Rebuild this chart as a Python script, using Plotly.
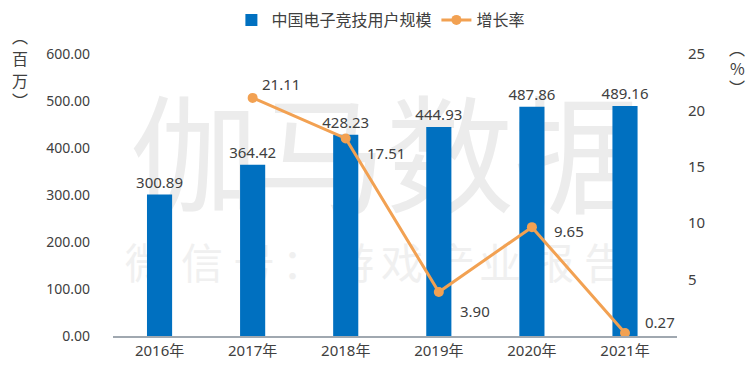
import plotly.graph_objects as go

years = ["2016年", "2017年", "2018年", "2019年", "2020年", "2021年"]
users = [300.89, 364.42, 428.23, 444.93, 487.86, 489.16]
growth_years = ["2017年", "2018年", "2019年", "2020年", "2021年"]
growth = [21.11, 17.51, 3.90, 9.65, 0.27]
growth_label_shift = [(28, 14), (40, -15), (36, -19), (37, -4), (35, 11)]
left_ticks = [0, 100, 200, 300, 400, 500, 600]
right_ticks = [5, 10, 15, 20, 25]

BLUE = "#0070C0"
ORANGE = "#F2A152"
FONT = "Noto Sans, Noto Sans CJK SC, sans-serif"
TXT = "#404040"

# plot area in pixels
L, R, T, B = 113, 677, 54, 336


def px(x):
    return (x - L) / (R - L)


def py(y):
    return (B - y) / (B - T)


fig = go.Figure()

# watermark (drawn beneath the data, on the base subplot whose units are pixels)
fig.add_trace(go.Scatter(x=[386], y=[172], mode="text", text=["伽马数据"],
                         textfont=dict(size=128, color="#ececec", family="Noto Sans CJK SC"),
                         hoverinfo="skip", showlegend=False, xaxis="x", yaxis="y"))
wm_chars = list("微信号：游戏产业报告")
wm_x = [146, 202, 254, 303, 353, 402, 454, 500, 553, 605]
fig.add_trace(go.Scatter(x=wm_x, y=[268] * len(wm_x), mode="text", text=wm_chars,
                         textfont=dict(size=42, color="#f0f0f0", family="Noto Sans CJK SC"),
                         hoverinfo="skip", showlegend=False, xaxis="x", yaxis="y"))

fig.add_trace(go.Bar(x=years, y=users, name="中国电子竞技用户规模",
                     marker=dict(color=BLUE, line=dict(width=0)), width=0.27,
                     text=[f"{v:.2f}" for v in users], textposition="outside",
                     constraintext="none",
                     textfont=dict(size=15, color=TXT, family=FONT), cliponaxis=False,
                     xaxis="x2", yaxis="y2"))
fig.add_trace(go.Scatter(x=growth_years, y=growth, name="增长率", mode="lines+markers",
                         line=dict(color=ORANGE, width=3),
                         marker=dict(color=ORANGE, size=10),
                         cliponaxis=False, xaxis="x2", yaxis="y3"))

annotations = []
for yr, v, (dx, dy) in zip(growth_years, growth, growth_label_shift):
    annotations.append(dict(x=yr, y=v, xref="x2", yref="y3", text=f"{v:.2f}",
                            showarrow=False, xshift=dx, yshift=dy,
                            font=dict(size=15, color=TXT, family=FONT)))

for ch, yy in zip(["︵", "百", "万", "︶"], [36, 58, 80, 100]):
    annotations.append(dict(text=ch, xref="paper", yref="paper", x=px(20), y=py(yy),
                            xanchor="center", yanchor="middle", showarrow=False,
                            font=dict(size=16, color=TXT, family="Noto Sans CJK SC")))
for ch, yy in zip(["︵", "%", "︶"], [48, 68, 87]):
    annotations.append(dict(text=ch, xref="paper", yref="paper", x=px(737), y=py(yy),
                            xanchor="center", yanchor="middle", showarrow=False,
                            font=dict(size=16, color=TXT, family="Noto Sans CJK SC")))

fig.update_layout(
    width=750, height=384,
    margin=dict(l=L, r=750 - R, t=T, b=384 - B, autoexpand=False),
    paper_bgcolor="white", plot_bgcolor="white",
    font=dict(family=FONT, size=15, color=TXT),
    showlegend=True,
    legend=dict(orientation="h", x=0.475, xanchor="center", y=py(20), yanchor="middle",
                font=dict(size=16, color=TXT), bgcolor="rgba(0,0,0,0)",
                traceorder="normal", itemwidth=30),
    xaxis=dict(range=[L, R], visible=False, fixedrange=True, automargin=False),
    yaxis=dict(range=[B, T], visible=False, fixedrange=True, automargin=False),
    xaxis2=dict(overlaying="x", anchor="y2", type="category", categoryorder="array",
                categoryarray=years, showline=True, linecolor="#a0a8b0", linewidth=1.5,
                ticks="", showgrid=False, tickfont=dict(size=15, color=TXT),
                automargin=False),
    yaxis2=dict(overlaying="y", anchor="x2", side="left", range=[0, 600],
                tickvals=left_ticks, ticktext=[f"{v:.2f}" for v in left_ticks],
                showgrid=False, zeroline=False, showline=False, ticks="",
                tickfont=dict(size=14, color=TXT), ticklabelstandoff=22, automargin=False),
    yaxis3=dict(overlaying="y", anchor="x2", side="right", range=[0, 25],
                tickvals=right_ticks, showgrid=False, zeroline=False, showline=False,
                ticks="", tickfont=dict(size=15, color=TXT), ticklabelstandoff=10,
                automargin=False),
    annotations=annotations,
)

fig.write_html("out.html", config={"displayModeBar": False},
               post_script="document.body.style.margin='0';document.body.style.overflow='hidden';")
